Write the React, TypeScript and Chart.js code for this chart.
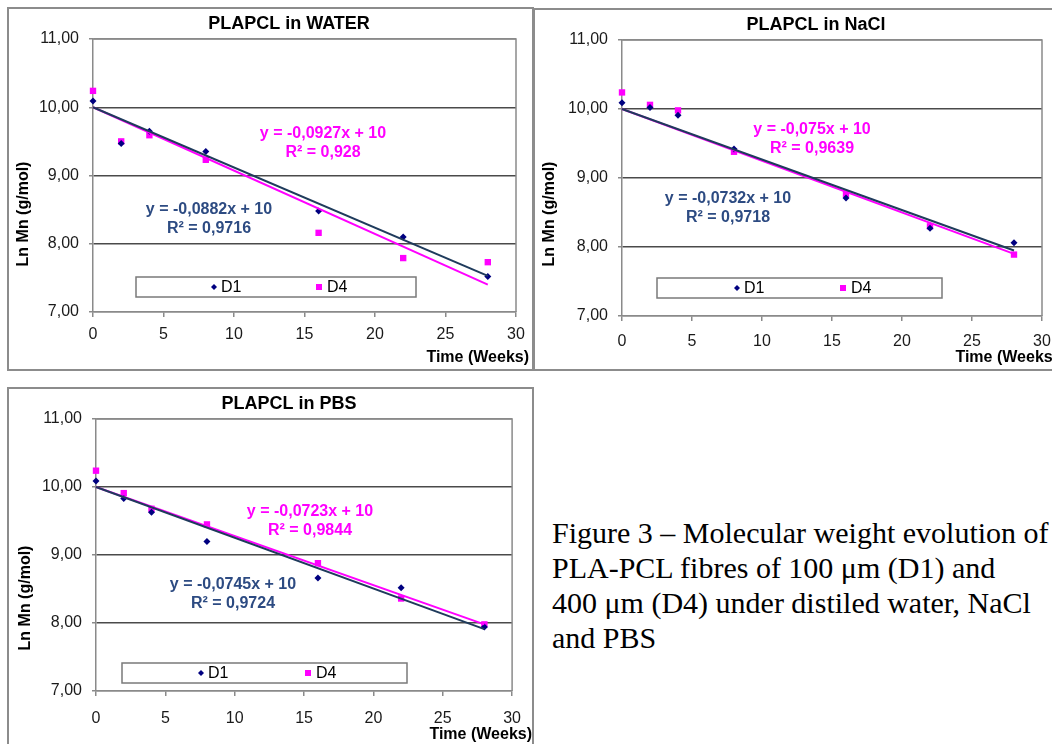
import React, { useEffect, useRef } from 'react';
import { Chart, registerables } from 'chart.js';

Chart.register(...registerables);

// ---------- data ----------
const weeks = [0, 2, 4, 8, 16, 22, 28];
const trendWeeks = [0, 28];
const seriesNames = ['D1', 'D4'];

const waterD1 = [10.09, 9.47, 9.65, 9.35, 8.48, 8.1, 7.52];
const waterD4 = [10.24, 9.5, 9.59, 9.23, 8.16, 7.79, 7.73];
const waterTrendD1 = [10, 7.53];
const waterTrendD4 = [10, 7.4];
const waterEqD1 = ['y = -0,0882x + 10', 'R² = 0,9716'];
const waterEqD4 = ['y = -0,0927x + 10', 'R² = 0,928'];

const naclD1 = [10.09, 10.02, 9.91, 9.42, 8.71, 8.27, 8.06];
const naclD4 = [10.24, 10.06, 9.98, 9.38, 8.77, 8.3, 7.89];
const naclTrendD1 = [10, 7.95];
const naclTrendD4 = [10, 7.9];
const naclEqD1 = ['y = -0,0732x + 10', 'R² = 0,9718'];
const naclEqD4 = ['y = -0,075x + 10', 'R² = 0,9639'];

const pbsD1 = [10.09, 9.83, 9.63, 9.2, 8.66, 8.52, 7.94];
const pbsD4 = [10.24, 9.91, 9.68, 9.45, 8.88, 8.36, 7.98];
const pbsTrendD1 = [10, 7.91];
const pbsTrendD4 = [10, 7.98];
const pbsEqD1 = ['y = -0,0745x + 10', 'R² = 0,9724'];
const pbsEqD4 = ['y = -0,0723x + 10', 'R² = 0,9844'];

const xTitle = 'Time (Weeks)';
const yTitle = 'Ln Mn (g/mol)';
const captionLines = [
  'Figure 3 – Molecular weight evolution of',
  'PLA-PCL fibres of 100 μm (D1) and',
  '400 μm (D4) under distiled water, NaCl',
  'and PBS',
];

// ---------- styles ----------
const SANS = '"Liberation Sans", Arial, sans-serif';
const NAVY = '#000080';
const MAGENTA = '#ff00ff';
const D1LINE = '#1f3b5c';
const D1TEXT = '#2d4b82';
const AXIS = '#8a8a8a';
const GRID = '#4a4a4a';

const layouts = {
  water: {
    frame: { x: 7, y: 7, w: 527, h: 364 },
    plot: { l: 93, t: 39, r: 516, b: 312 },
    title: { x: 289, y: 24 },
    yTitle: { x: 24, y: 214 },
    xTitle: { right: 529, y: 358 },
    eq1: { x: 209, y: 210 },
    eq4: { x: 323, y: 134 },
    legend: { x: 136, y: 277, w: 280, h: 20, m1: 214, m4: 319 },
    xTickPad: 8,
  },
  nacl: {
    frame: { x: 533, y: 8, w: 530, h: 363 },
    plot: { l: 622, t: 40, r: 1042, b: 316 },
    title: { x: 816, y: 25 },
    yTitle: { x: 550, y: 214 },
    xTitle: { right: 1058, y: 358 },
    eq1: { x: 728, y: 199 },
    eq4: { x: 812, y: 130 },
    legend: { x: 657, y: 278, w: 285, h: 20, m1: 737, m4: 843 },
    xTickPad: 11,
  },
  pbs: {
    frame: { x: 7, y: 387, w: 527, h: 362 },
    plot: { l: 96, t: 419, r: 516, b: 691 },
    title: { x: 289, y: 404 },
    yTitle: { x: 26, y: 598 },
    xTitle: { right: 532, y: 735 },
    eq1: { x: 233, y: 585 },
    eq4: { x: 310, y: 512 },
    legend: { x: 122, y: 663, w: 285, h: 20, m1: 201, m4: 308 },
    xTickPad: 13,
  },
};

function toPts(xs: number[], ys: number[]) {
  return xs.map((x, i) => ({ x, y: ys[i] }));
}

function Panel(props: any) {
  const { title, d1, d4, t1, t4, eq1, eq4, L } = props;
  const ref = useRef<HTMLCanvasElement>(null);

  useEffect(() => {
    if (!ref.current) return;
    const fx = L.frame.x;
    const fy = L.frame.y;

    const textPlugin = {
      id: 'panelText',
      beforeDatasetsDraw(chart: any) {
        const { ctx, chartArea: a } = chart;
        ctx.save();
        ctx.strokeStyle = AXIS;
        ctx.lineWidth = 1.5;
        ctx.beginPath();
        ctx.moveTo(a.left, a.top);
        ctx.lineTo(a.right, a.top);
        ctx.lineTo(a.right, a.bottom);
        ctx.stroke();
        ctx.restore();
      },
      afterDraw(chart: any) {
        const ctx = chart.ctx;
        ctx.save();
        // title
        ctx.fillStyle = '#000';
        ctx.textAlign = 'center';
        ctx.textBaseline = 'middle';
        ctx.font = `bold 18px ${SANS}`;
        ctx.fillText(title, L.title.x - fx, L.title.y - fy);
        // y title
        ctx.save();
        ctx.translate(L.yTitle.x - fx, L.yTitle.y - fy);
        ctx.rotate(-Math.PI / 2);
        ctx.font = `bold 16px ${SANS}`;
        ctx.fillText(yTitle, 0, 0);
        ctx.restore();
        // x title
        ctx.textAlign = 'right';
        ctx.font = `bold 16px ${SANS}`;
        ctx.fillText(xTitle, L.xTitle.right - fx, L.xTitle.y - fy);
        // equations
        ctx.textAlign = 'center';
        ctx.font = `bold 16px ${SANS}`;
        ctx.fillStyle = MAGENTA;
        eq4.forEach((s: string, i: number) => ctx.fillText(s, L.eq4.x - fx, L.eq4.y - fy + i * 19));
        ctx.fillStyle = D1TEXT;
        eq1.forEach((s: string, i: number) => ctx.fillText(s, L.eq1.x - fx, L.eq1.y - fy + i * 19));
        // legend
        const lg = L.legend;
        const lx = lg.x - fx;
        const ly = lg.y - fy;
        ctx.fillStyle = '#fff';
        ctx.fillRect(lx, ly, lg.w, lg.h);
        ctx.strokeStyle = '#7a7a7a';
        ctx.lineWidth = 1.5;
        ctx.strokeRect(lx, ly, lg.w, lg.h);
        const cy = ly + lg.h / 2;
        const ds = chart.data.datasets;
        // D1 diamond
        const m1 = lg.m1 - fx;
        ctx.fillStyle = ds[0].backgroundColor;
        ctx.beginPath();
        ctx.moveTo(m1, cy - 3);
        ctx.lineTo(m1 + 3, cy);
        ctx.lineTo(m1, cy + 3);
        ctx.lineTo(m1 - 3, cy);
        ctx.closePath();
        ctx.fill();
        // D4 square
        const m4 = lg.m4 - fx;
        ctx.fillStyle = ds[1].backgroundColor;
        ctx.fillRect(m4 - 3, cy - 3, 6, 6);
        ctx.fillStyle = '#000';
        ctx.textAlign = 'left';
        ctx.font = `16px ${SANS}`;
        ctx.fillText(ds[0].label, m1 + 7, cy + 1);
        ctx.fillText(ds[1].label, m4 + 8, cy + 1);
        ctx.restore();
      },
    };

    const tickFont = { family: SANS, size: 16 };
    const chart = new Chart(ref.current, {
      type: 'scatter',
      data: {
        datasets: [
          {
            label: seriesNames[0],
            data: toPts(weeks, d1),
            pointStyle: 'rectRot',
            pointRadius: 3.5,
            backgroundColor: NAVY,
            borderColor: NAVY,
            borderWidth: 0,
            clip: false,
            order: 2,
          },
          {
            label: seriesNames[1],
            data: toPts(weeks, d4),
            pointStyle: 'rect',
            pointRadius: 4.5,
            backgroundColor: MAGENTA,
            borderColor: MAGENTA,
            borderWidth: 0,
            clip: false,
            order: 2,
          },
          {
            label: seriesNames[0] + ' trend',
            data: toPts(trendWeeks, t1),
            showLine: true,
            pointRadius: 0,
            borderColor: D1LINE,
            borderWidth: 2,
            clip: false,
            order: 1,
          },
          {
            label: seriesNames[1] + ' trend',
            data: toPts(trendWeeks, t4),
            showLine: true,
            pointRadius: 0,
            borderColor: MAGENTA,
            borderWidth: 2,
            clip: false,
            order: 1,
          },
        ],
      } as any,
      options: {
        animation: false,
        responsive: false,
        maintainAspectRatio: false,
        events: [],
        layout: {
          padding: {
            left: 0,
            top: L.plot.t - fy,
            right: fx + L.frame.w - L.plot.r,
            bottom: 0,
          },
        },
        plugins: {
          legend: { display: false },
          tooltip: { enabled: false },
          title: { display: false },
        },
        scales: {
          x: {
            type: 'linear',
            min: 0,
            max: 30,
            afterFit: (s: any) => {
              s.height = fy + L.frame.h - L.plot.b;
            },
            ticks: { stepSize: 5, padding: L.xTickPad, font: tickFont, color: '#1a1a1a', maxRotation: 0 },
            grid: { drawOnChartArea: false, drawTicks: true, tickLength: 5, tickColor: AXIS, lineWidth: 1.5 },
            border: { display: true, color: AXIS, width: 1.5 },
          },
          y: {
            type: 'linear',
            min: 7,
            max: 11,
            afterFit: (s: any) => {
              s.width = L.plot.l - fx;
            },
            ticks: {
              stepSize: 1,
              padding: 10,
              font: tickFont,
              color: '#1a1a1a',
              callback: (v: any) => Number(v).toFixed(2).replace('.', ','),
            },
            grid: {
              color: (c: any) => (c.tick && (c.tick.value === 7 || c.tick.value === 11) ? AXIS : GRID),
              lineWidth: 1.5,
              drawTicks: true,
              tickLength: 4,
              tickColor: AXIS,
            },
            border: { display: true, color: AXIS, width: 1.5 },
          },
        },
      } as any,
      plugins: [textPlugin],
    });
    return () => chart.destroy();
  }, []);

  return (
    <>
      <div
        style={{
          position: 'absolute',
          left: L.frame.x,
          top: L.frame.y,
          width: L.frame.w,
          height: L.frame.h,
          border: '2px solid #8c8c8c',
          boxSizing: 'border-box',
          background: '#fff',
        }}
      />
      <canvas
        ref={ref}
        width={L.frame.w}
        height={L.frame.h}
        style={{
          position: 'absolute',
          left: L.frame.x,
          top: L.frame.y,
          width: L.frame.w,
          height: L.frame.h,
        }}
      />
    </>
  );
}

export default function App() {
  return (
    <div
      style={{
        position: 'absolute',
        left: 0,
        top: 0,
        width: 1052,
        height: 744,
        overflow: 'hidden',
        background: '#fff',
      }}
    >
      <Panel title="PLAPCL in WATER" d1={waterD1} d4={waterD4} t1={waterTrendD1} t4={waterTrendD4} eq1={waterEqD1} eq4={waterEqD4} L={layouts.water} />
      <Panel title="PLAPCL in NaCl" d1={naclD1} d4={naclD4} t1={naclTrendD1} t4={naclTrendD4} eq1={naclEqD1} eq4={naclEqD4} L={layouts.nacl} />
      <Panel title="PLAPCL in PBS" d1={pbsD1} d4={pbsD4} t1={pbsTrendD1} t4={pbsTrendD4} eq1={pbsEqD1} eq4={pbsEqD4} L={layouts.pbs} />
      <div
        style={{
          position: 'absolute',
          left: 552,
          top: 515,
          fontFamily: '"Liberation Serif", "Times New Roman", serif',
          fontSize: 30,
          lineHeight: '35px',
          color: '#000',
          whiteSpace: 'nowrap',
        }}
      >
        {captionLines.map((s, i) => (
          <div key={i}>{s}</div>
        ))}
      </div>
    </div>
  );
}
